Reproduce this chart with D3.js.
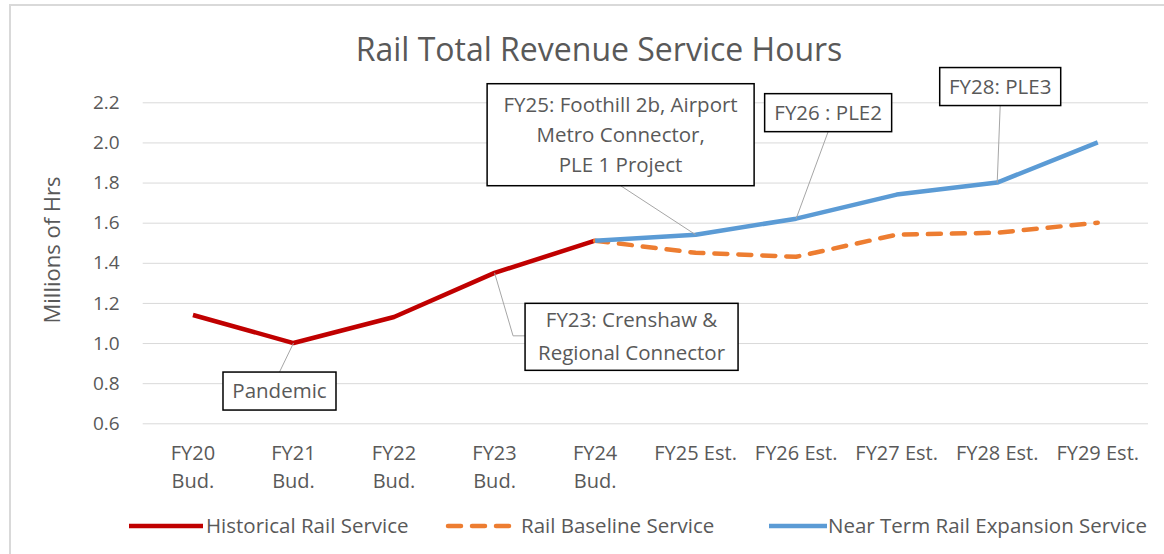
<meta charset="utf-8" />
<script src="https://d3js.org/d3.v7.min.js"></script>
<style>
  body { margin: 0; background: #fff; }
  text { font-family: 'Open Sans', 'Noto Sans', sans-serif; fill: #595959; }
</style>
<div id="chart"></div>
<script>
  // categories and series values (millions of hours)
  const categories = ['FY20 Bud.', 'FY21 Bud.', 'FY22 Bud.', 'FY23 Bud.', 'FY24 Bud.',
    'FY25 Est.', 'FY26 Est.', 'FY27 Est.', 'FY28 Est.', 'FY29 Est.'];
  const tickLines = [['FY20', 'Bud.'], ['FY21', 'Bud.'], ['FY22', 'Bud.'], ['FY23', 'Bud.'], ['FY24', 'Bud.'],
    ['FY25 Est.'], ['FY26 Est.'], ['FY27 Est.'], ['FY28 Est.'], ['FY29 Est.']];
  const historical = [1.14, 1.0, 1.13, 1.35, 1.51, null, null, null, null, null];
  const baseline = [null, null, null, null, 1.51, 1.45, 1.43, 1.54, 1.55, 1.60];
  const expansion = [null, null, null, null, 1.51, 1.54, 1.62, 1.74, 1.80, 2.00];
  const yTicks = [0.6, 0.8, 1.0, 1.2, 1.4, 1.6, 1.8, 2.0, 2.2];

  const seriesNames = ['Historical Rail Service', 'Rail Baseline Service', 'Near Term Rail Expansion Service'];
  const colors = ['#C00000', '#ED7D31', '#5B9BD5'];

  // annotations: which point they point to and their text
  const notes = [
    { lines: ['Pandemic'], series: 0, cat: 1 },
    { lines: ['FY23: Crenshaw &', 'Regional Connector'], series: 0, cat: 3 },
    { lines: ['FY25: Foothill 2b, Airport', 'Metro Connector,', 'PLE 1 Project'], series: 2, cat: 5 },
    { lines: ['FY26 : PLE2'], series: 2, cat: 6 },
    { lines: ['FY28: PLE3'], series: 2, cat: 8 },
  ];
  // box layout relative to anchor point (dx, dy of box centre, w, h)
  const noteBoxes = [
    { dx: -14, dy: 48, w: 113, h: 38, leader: 'top' },
    { dx: 137, dy: 64, w: 213, h: 67, leader: 'elbow' },
    { dx: -75, dy: -100, w: 267, h: 102, leader: 'bottom' },
    { dx: 32, dy: -106, w: 127, h: 38, leader: 'bottom' },
    { dx: 3, dy: -96, w: 121, h: 38, leader: 'bottom' },
  ];

  const W = 1164, H = 554;
  const plot = { left: 142.7, right: 1148, top: 102.3, bottom: 423.3 };

  const svg = d3.select('#chart').append('svg').attr('width', W).attr('height', H);

  // chart frame
  svg.append('rect').attr('x', 10).attr('y', 5).attr('width', W).attr('height', H)
    .attr('fill', '#fff').attr('stroke', '#D9D9D9').attr('stroke-width', 2);

  const x = d3.scaleBand().domain(categories).range([plot.left, plot.right]);
  const cx = (c) => x(c) + x.bandwidth() / 2;
  const y = d3.scaleLinear().domain([0.6, 2.2]).range([plot.bottom, plot.top]);

  // title
  svg.append('text').attr('x', 599).attr('y', 61).attr('text-anchor', 'middle')
    .style('font-size', '32px').text('Rail Total Revenue Service Hours');

  // gridlines + y axis
  const yAxis = svg.append('g').attr('transform', `translate(${plot.left},0)`)
    .call(d3.axisLeft(y).tickValues(yTicks).tickFormat(d3.format('.1f'))
      .tickSize(-(plot.right - plot.left)).tickPadding(23));
  yAxis.select('.domain').remove();
  yAxis.selectAll('.tick line').attr('stroke', '#D9D9D9');
  yAxis.selectAll('.tick text').style('font-size', '19px').attr('fill', '#595959');

  svg.append('text').attr('transform', 'translate(60,250) rotate(-90)').attr('text-anchor', 'middle')
    .style('font-size', '22px').text('Millions of Hrs');

  // x tick labels
  const xt = svg.append('g').selectAll('text').data(categories).join('text')
    .attr('x', (d) => cx(d)).attr('y', 460).attr('text-anchor', 'middle').style('font-size', '20px');
  xt.selectAll('tspan').data((d, i) => tickLines[i]).join('tspan')
    .attr('x', function () { return this.parentNode.getAttribute('x'); })
    .attr('dy', (d, i) => (i === 0 ? 0 : 28)).text((d) => d);

  // lines
  const allSeries = [historical, baseline, expansion];
  const line = d3.line().defined((d) => d.v != null).x((d) => cx(d.c)).y((d) => y(d.v));
  allSeries.forEach((s, k) => {
    svg.append('path')
      .datum(s.map((v, i) => ({ c: categories[i], v: v })))
      .attr('d', line).attr('fill', 'none').attr('stroke', colors[k])
      .attr('stroke-width', 4.5).attr('stroke-linejoin', 'round')
      .attr('stroke-linecap', k === 1 ? 'round' : 'butt')
      .attr('stroke-dasharray', k === 1 ? '13,11' : null);
  });

  // annotations
  notes.forEach((n, i) => {
    const b = noteBoxes[i];
    const ax = cx(categories[n.cat]);
    const ay = y(allSeries[n.series][n.cat]);
    const bx = ax + b.dx, by = ay + b.dy;
    let pts;
    if (b.leader === 'top') pts = [[ax, ay], [bx, by - b.h / 2]];
    else if (b.leader === 'bottom') pts = [[ax, ay], [bx, by + b.h / 2]];
    else pts = [[ax, ay], [bx - b.w / 2 - 12, ay + 63], [bx - b.w / 2, ay + 63]];
    svg.append('path').attr('d', d3.line()(pts)).attr('fill', 'none')
      .attr('stroke', '#A6A6A6').attr('stroke-width', 1);
    svg.append('rect').attr('x', bx - b.w / 2).attr('y', by - b.h / 2)
      .attr('width', b.w).attr('height', b.h)
      .attr('fill', '#fff').attr('stroke', '#000').attr('stroke-width', 1.5);
    const lh = n.lines.length === 2 ? 33 : 30;
    svg.append('text').attr('text-anchor', 'middle').style('font-size', '20.5px')
      .selectAll('tspan').data(n.lines).join('tspan')
      .attr('x', bx).attr('y', (d, j) => by + (j - (n.lines.length - 1) / 2) * lh + 7)
      .text((d) => d);
  });

  // legend
  const legend = [
    { x1: 129, x2: 203, tx: 206 },
    { x1: 448, x2: 510, tx: 521 },
    { x1: 769, x2: 827, tx: 828 },
  ];
  legend.forEach((l, k) => {
    svg.append('line').attr('x1', l.x1).attr('x2', l.x2).attr('y1', 526).attr('y2', 526)
      .attr('stroke', colors[k]).attr('stroke-width', 4.5)
      .attr('stroke-linecap', k === 1 ? 'round' : 'butt')
      .attr('stroke-dasharray', k === 1 ? '13,11' : null);
    svg.append('text').attr('x', l.tx).attr('y', 533).style('font-size', '20.5px').text(seriesNames[k]);
  });
</script>
